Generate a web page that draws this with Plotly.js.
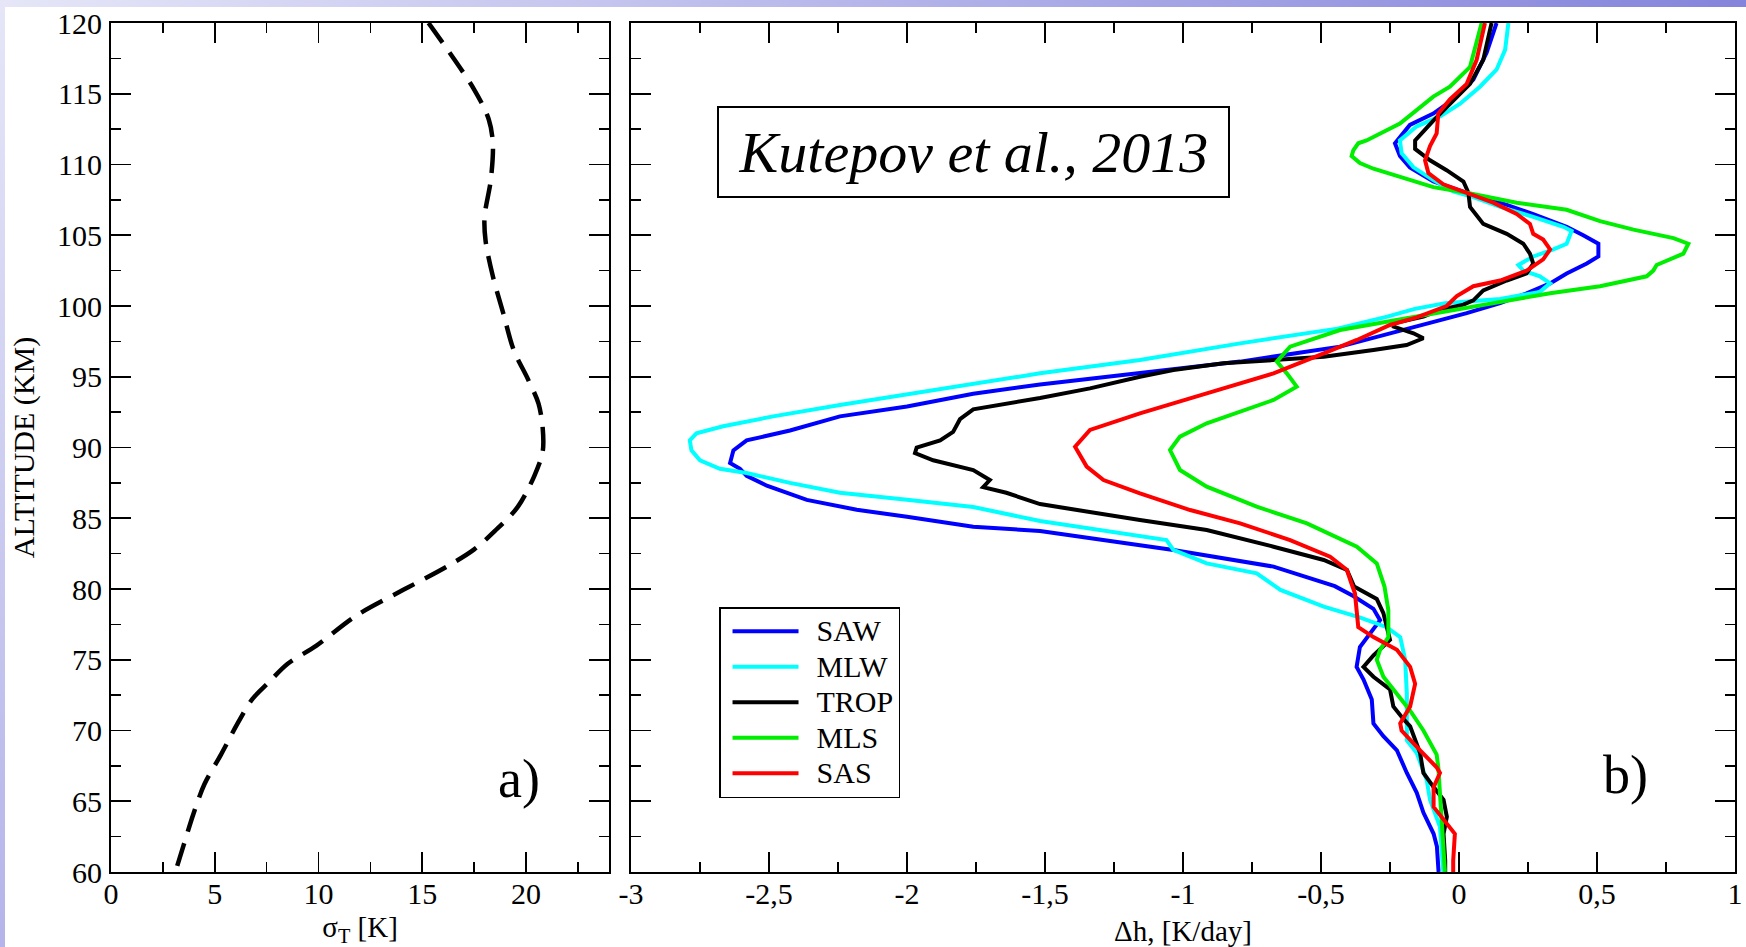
<!DOCTYPE html>
<html>
<head>
<meta charset="utf-8">
<script src="https://cdn.plot.ly/plotly-3.0.1.min.js"></script>
<style>
html,body{margin:0;padding:0;background:#ffffff;}
#wrap{position:relative;width:1746px;height:947px;overflow:hidden;background:#ffffff;}
#topband{position:absolute;left:0;top:0;width:1746px;height:7px;background:linear-gradient(to right,#e6e6f8,#8484dc);}
#leftband{position:absolute;left:0;top:0;width:5px;height:947px;background:linear-gradient(to bottom,#e6e6f8,#b4b4ea);}
#chart{position:absolute;left:0;top:0;width:1746px;height:947px;}
</style>
</head>
<body>
<div id="wrap"><div id="topband"></div><div id="leftband"></div><div id="chart"></div></div>
<script>
// ---- Panel a): temperature variability sigma_T [K] vs altitude [km]
const sigmaAlt = [120,115.3,113.2,111.5,108.9,106.3,104.6,102.1,99.5,96.9,94.8,93.1,91.4,89.7,88,85.8,84.1,82.8,81.6,80.1,78.1,76,74.7,73.4,72.2,70.5,68.3,66.2,64.1,61.9,60];
const sigmaT   = [15.3,17.5,18.2,18.4,18.3,18.0,18.05,18.4,18.9,19.4,20.1,20.6,20.8,20.8,20.4,19.6,18.5,17.5,16.2,14.3,11.8,9.9,8.5,7.6,6.8,6.1,5.3,4.5,3.97,3.5,3.1];

// ---- Panel b): heating-rate difference Δh [K/day] vs altitude [km]
const sawAlt = [120,117.9,116,114.6,113.6,112.8,111.5,110.6,109.8,108.8,108,107.3,106.5,105.6,105,104.4,103.5,103,102.3,101.6,100.9,100.2,99.5,99,98.3,97.13,96.07,95.24,94.45,93.8,92.9,92.2,91.2,90.5,89.8,88.9,88.5,88,87.3,86.3,85.6,85.1,84.4,84.1,82.76,81.58,80.2,79.5,78.6,77.8,76.9,75.9,74.5,73.6,72.2,70.5,69.6,68.6,67,65.6,64.2,62.7,61.8,60];
const sawDh  = [0.136,0.100,0.052,-0.021,-0.093,-0.178,-0.232,-0.214,-0.178,-0.093,0.028,0.149,0.269,0.390,0.450,0.505,0.505,0.463,0.390,0.330,0.245,0.149,0.028,-0.069,-0.2,-0.431,-0.793,-1.156,-1.518,-1.76,-2.0,-2.243,-2.424,-2.581,-2.629,-2.641,-2.605,-2.581,-2.508,-2.363,-2.182,-2.0,-1.76,-1.518,-1.035,-0.672,-0.45,-0.383,-0.31,-0.286,-0.322,-0.359,-0.371,-0.346,-0.316,-0.310,-0.274,-0.225,-0.189,-0.153,-0.129,-0.092,-0.080,-0.074];

const mlwAlt = [120,118.1,116.7,115.5,114.3,113.4,112.7,111.7,110.8,109.8,108.9,108.1,107.7,107,106.3,105.6,105.3,104.4,104,103.5,102.9,102.5,102.1,101.6,101,100.5,100.2,99.8,99.25,98.4,97.36,96.18,95.24,94.5,93.8,93,92.2,91.5,91,90.5,89.8,89.1,88.5,88.2,87.5,86.8,86.3,85.8,84.8,83.46,82.76,81.81,81.11,79.93,78.75,78.0,77.3,76.6,75,72.6,71,69.3,68.4,66.5,65.1,63.2,60];
const mlwDh  = [0.179,0.167,0.136,0.076,0.004,-0.069,-0.153,-0.214,-0.208,-0.165,-0.093,-0.021,0.052,0.149,0.269,0.378,0.408,0.390,0.342,0.269,0.215,0.233,0.293,0.330,0.293,0.149,-0.05,-0.16,-0.26,-0.44,-0.793,-1.156,-1.518,-1.76,-2.0,-2.243,-2.485,-2.666,-2.763,-2.787,-2.781,-2.75,-2.678,-2.581,-2.424,-2.243,-2.0,-1.76,-1.518,-1.06,-1.035,-0.914,-0.733,-0.647,-0.49,-0.36,-0.262,-0.213,-0.195,-0.189,-0.189,-0.189,-0.153,-0.117,-0.105,-0.069,-0.057];

const tropAlt = [120,117.4,115.7,114.3,113.1,111.7,111.1,110.3,109.6,108.8,108,107,105.8,105.1,104.4,103.7,103,102.3,101.8,101.1,100.4,100.1,99.72,99.25,98.78,98.54,98.07,97.72,97.24,96.89,96.42,96.18,95.95,95.48,95,94.18,93.5,92.7,92,91.1,90.5,90,89.6,89.1,88.4,87.7,87.2,86.8,86,84.88,84.17,82.99,82.05,81.34,80.17,79.3,78.3,76.4,75.3,74.5,73.8,72.9,71.7,70.8,70.3,68.4,67,66,65.1,63.9,62.7,60.8,60];
const tropDh  = [0.118,0.088,0.040,-0.033,-0.093,-0.159,-0.159,-0.105,-0.045,0.016,0.034,0.040,0.088,0.173,0.233,0.257,0.269,0.245,0.173,0.088,0.052,0.016,-0.069,-0.129,-0.237,-0.237,-0.165,-0.129,-0.19,-0.31,-0.49,-0.672,-0.853,-1.035,-1.156,-1.337,-1.518,-1.76,-1.808,-1.833,-1.88,-1.965,-1.971,-1.905,-1.76,-1.70,-1.724,-1.64,-1.518,-1.156,-0.914,-0.672,-0.49,-0.406,-0.38,-0.298,-0.274,-0.250,-0.310,-0.346,-0.310,-0.250,-0.238,-0.201,-0.177,-0.141,-0.129,-0.092,-0.056,-0.044,-0.056,-0.05,-0.05];

const mlsAlt = [120,116.9,115.5,114.8,112.9,111.7,111.5,111,110.6,110.1,109.7,109.1,108.4,108,107.3,106.8,106,105.4,104.8,104.4,103.7,102.9,102.5,102.1,101.4,100.9,100.3,99.7,99.13,98.3,97.13,96.07,95.24,94.3,93.36,91.71,90.77,89.82,88.41,87.23,85.82,84.64,82.99,81.81,80.17,78.5,76.6,75.7,75,73.8,72.6,71.4,70,68.3,67.4,65.5,63.6,61.8,60];
const mlsDh  = [0.082,0.040,-0.033,-0.093,-0.214,-0.335,-0.365,-0.383,-0.389,-0.359,-0.310,-0.214,-0.093,0.028,0.209,0.390,0.511,0.632,0.777,0.831,0.813,0.716,0.704,0.680,0.511,0.330,0.149,-0.033,-0.19,-0.431,-0.612,-0.66,-0.624,-0.588,-0.672,-0.914,-1.011,-1.047,-1.011,-0.914,-0.733,-0.551,-0.37,-0.298,-0.27,-0.256,-0.256,-0.286,-0.298,-0.274,-0.225,-0.177,-0.129,-0.081,-0.075,-0.069,-0.063,-0.057,-0.051];

const sasAlt = [120,117.4,115.7,114.6,113.6,112.2,111.3,110.3,109.4,108.6,108,107.3,106.5,105.8,105.1,104.7,104,103.3,102.5,101.8,101.4,100.7,100,99.2,98.66,97.6,96.65,95.24,93.83,92.41,91.24,90.06,88.65,87.7,86.76,85.58,84.64,83.46,82.28,81.34,80.4,79.7,77.3,76.6,75.7,74.5,73.3,71.7,70.5,70,68.6,67.4,67,66,64.6,63.5,62.7,60.8,60];
const sasDh  = [0.094,0.064,0.028,-0.033,-0.075,-0.081,-0.105,-0.123,-0.111,-0.057,0.028,0.124,0.209,0.257,0.269,0.305,0.330,0.305,0.245,0.149,0.052,-0.008,-0.045,-0.153,-0.25,-0.37,-0.49,-0.672,-0.914,-1.156,-1.337,-1.391,-1.349,-1.288,-1.156,-0.974,-0.793,-0.612,-0.467,-0.406,-0.39,-0.377,-0.365,-0.31,-0.225,-0.177,-0.159,-0.177,-0.213,-0.208,-0.141,-0.081,-0.069,-0.092,-0.092,-0.045,-0.015,-0.021,-0.021];

const seriesNames = ['SAW','MLW','TROP','MLS','SAS'];
const dhTickVals = [-3,-2.5,-2,-1.5,-1,-0.5,0,0.5,1];
const dhTickText = ['-3','-2,5','-2','-1,5','-1','-0,5','0','0,5','1'];
const sigmaTickVals = [0,5,10,15,20];
const altTickVals = [60,65,70,75,80,85,90,95,100,105,110,115,120];

// ---- styles
const seriesColors = ['#0000ff','#00ffff','#000000','#00ee00','#ff0000'];
const FONT = "'Liberation Serif', 'Times New Roman', serif";

const dhSeries = [[sawDh,sawAlt],[mlwDh,mlwAlt],[tropDh,tropAlt],[mlsDh,mlsAlt],[sasDh,sasAlt]];

const traces = [{
  x: sigmaT, y: sigmaAlt, xaxis:'x', yaxis:'y', mode:'lines', showlegend:false,
  line:{color:'#000000', width:4.5, dash:'24px,12px', shape:'spline', smoothing:0.9},
  hoverinfo:'skip'
}];
dhSeries.forEach((s,i)=>{
  traces.push({
    x: s[0], y: s[1], xaxis:'x2', yaxis:'y2', mode:'lines',
    name: '<span style="font-size:30px">'+seriesNames[i]+'</span>',
    line:{color:seriesColors[i], width:4}
  });
});

const tickFont = {family:FONT, size:30, color:'#000000'};
const axisCommon = {
  ticks:'inside', ticklen:20, tickwidth:1.6, tickcolor:'#000000',
  showline:true, linewidth:2, linecolor:'#000000', mirror:'ticks',
  showgrid:false, zeroline:false, tickfont:tickFont
};
const minorCommon = {ticks:'inside', ticklen:10, tickwidth:1.6, tickcolor:'#000000', showgrid:false};

const layout = {
  width:1746, height:947,
  margin:{l:111, r:11, t:23, b:75, pad:0},
  paper_bgcolor:'rgba(0,0,0,0)', plot_bgcolor:'#ffffff',
  font:{family:FONT, color:'#000000'},
  xaxis: Object.assign({}, axisCommon, {
    domain:[0,0.3067], range:[0,24], anchor:'y', ticklabelstandoff:-6,
    tickmode:'array', tickvals:sigmaTickVals,
    minor:Object.assign({tickmode:'linear', tick0:0, dtick:2.5}, minorCommon),
    title:{text:'σ<sub>T</sub> [K]', font:{family:FONT, size:29, color:'#000000'}, standoff:12}
  }),
  yaxis: Object.assign({}, axisCommon, {
    domain:[0,1], range:[60,120], anchor:'x', ticklabelstandoff:1,
    tickmode:'array', tickvals:altTickVals,
    minor:Object.assign({tickmode:'linear', tick0:60, dtick:2.5}, minorCommon),
    title:{text:'ALTITUDE (KM)', font:{family:FONT, size:30, color:'#000000'}, standoff:14}
  }),
  xaxis2: Object.assign({}, axisCommon, {
    domain:[0.3202,1], range:[-3,1], anchor:'y2', ticklabelstandoff:-6,
    tickmode:'array', tickvals:dhTickVals, ticktext:dhTickText,
    minor:Object.assign({tickmode:'linear', tick0:-3, dtick:0.25}, minorCommon),
    title:{text:'Δh, [K/day]', font:{family:FONT, size:29, color:'#000000'}, standoff:12}
  }),
  yaxis2: Object.assign({}, axisCommon, {
    domain:[0,1], range:[60,120], anchor:'x2',
    tickmode:'array', tickvals:altTickVals, showticklabels:false,
    minor:Object.assign({tickmode:'linear', tick0:60, dtick:2.5}, minorCommon)
  }),
  legend:{
    x:0.3744, y:0.3121, xanchor:'left', yanchor:'top',
    bgcolor:'#ffffff', bordercolor:'#000000', borderwidth:1.5,
    font:{family:FONT, size:25, color:'#000000'}, tracegroupgap:0, itemwidth:86
  },
  annotations:[
    {xref:'x2 domain', yref:'y2 domain', x:0.3102, y:0.848, xanchor:'center', yanchor:'middle',
     text:'<i>Kutepov et al., 2013</i>', showarrow:false,
     font:{family:FONT, size:58, color:'#000000'},
     bordercolor:'#000000', borderwidth:2, borderpad:0, width:509, height:88, bgcolor:'#ffffff'},
    {xref:'x domain', yref:'y domain', x:0.82, y:0.11, xanchor:'center', yanchor:'middle',
     text:'a)', showarrow:false, font:{family:FONT, size:54, color:'#000000'}},
    {xref:'x2 domain', yref:'y2 domain', x:0.901, y:0.114, xanchor:'center', yanchor:'middle',
     text:'b)', showarrow:false, font:{family:FONT, size:54, color:'#000000'}}
  ]
};

Plotly.newPlot('chart', traces, layout, {displayModeBar:false, staticPlot:true}).then(function(){
  // lengthen / shift legend line samples to match the reference look
  document.querySelectorAll('#chart .legend .legendlines path').forEach(function(p){
    p.setAttribute('d','M12,0h66');
  });
});
</script>
</body>
</html>
